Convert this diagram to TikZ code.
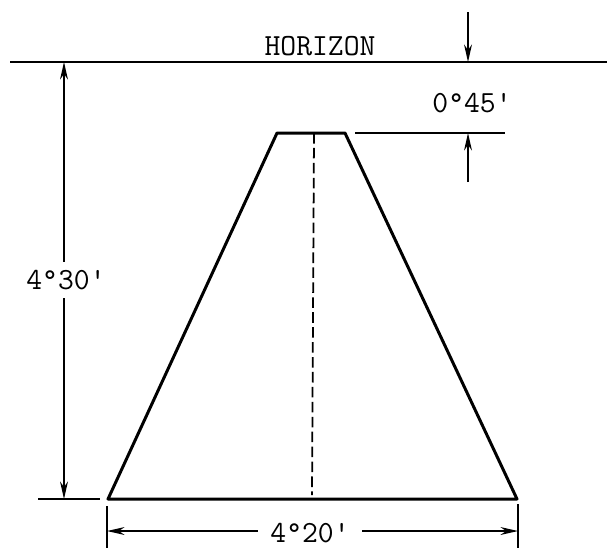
\documentclass[tikz,border=0pt]{standalone}
\usepackage{fontspec}
\usetikzlibrary{
    arrows.meta
}
\tikzset{
    >={Stealth[length=10pt,width=4.5pt]},
    outline/.style={
        line width=1.7pt,
        line join=round
    },
    dimline/.style={
        line width=0.9pt
    },
    centreline/.style={
        line width=1pt,
        dash pattern=on 6pt off 2.5pt
    },
    dimlabel/.style={
        font=\ttfamily\fontsize{17.5}{19}\selectfont,
        inner sep=0pt
    }
}

\begin{document}
\begin{tikzpicture}[
    x=0.02cm,
    y=-0.02cm
]
    \useasboundingbox (0,0) rectangle (607,549);

    % Puntos
    \coordinate (hl)  at (10,62);
    \coordinate (hr)  at (607,62);
    \coordinate (tl)  at (277,133);
    \coordinate (tr)  at (345,133);
    \coordinate (bl)  at (108,499);
    \coordinate (br)  at (517,499);
    \coordinate (ct)  at (314,133);
    \coordinate (cb)  at (312,495);

    % Lineas de referencia
    \coordinate (et1) at (355,133);
    \coordinate (et2) at (505,133);
    \coordinate (eb1) at (38,499);
    \coordinate (eb2) at (100,499);
    \coordinate (el1) at (107,506);
    \coordinate (el2) at (107,548);
    \coordinate (er1) at (518,504);
    \coordinate (er2) at (518,548);

    % Cotas
    \coordinate (a45) at (468,12);
    \coordinate (b45) at (468,182);
    \coordinate (a30) at (64,62);
    \coordinate (b30) at (64,499);
    \coordinate (a20) at (107,531);
    \coordinate (b20) at (518,531);

    % Textos
    \node[dimlabel] (horizon) at (320,46)  {HORIZON};
    \node[dimlabel] (l45)     at (472,103) {0°45\textquotesingle};
    \node[dimlabel, inner ysep=4.5pt] (l30) at (66,280)  {4°30\textquotesingle};
    \node[dimlabel, inner xsep=7pt]   (l20) at (310,533) {4°20\textquotesingle};

    % Horizonte y figura
    \draw[dimline] (hl) -- (hr);
    \draw[outline] (bl) -- (tl) -- (tr) -- (br) -- cycle;
    \draw[centreline] (ct) -- (cb);

    \draw[dimline]
        (et1) -- (et2)
        (eb1) -- (eb2)
        (el1) -- (el2)
        (er1) -- (er2);

    % Flechas
    \draw[dimline, ->] (a45) -- (a45 |- hl);
    \draw[dimline, ->] (b45) -- (b45 |- et1);
    \draw[dimline, ->] (l30.north -| a30) -- (a30);
    \draw[dimline, ->] (l30.south -| b30) -- (b30);
    \draw[dimline, ->] (l20.west |- a20) -- (a20);
    \draw[dimline, ->] (l20.east |- b20) -- (b20);

\end{tikzpicture}
\end{document}
